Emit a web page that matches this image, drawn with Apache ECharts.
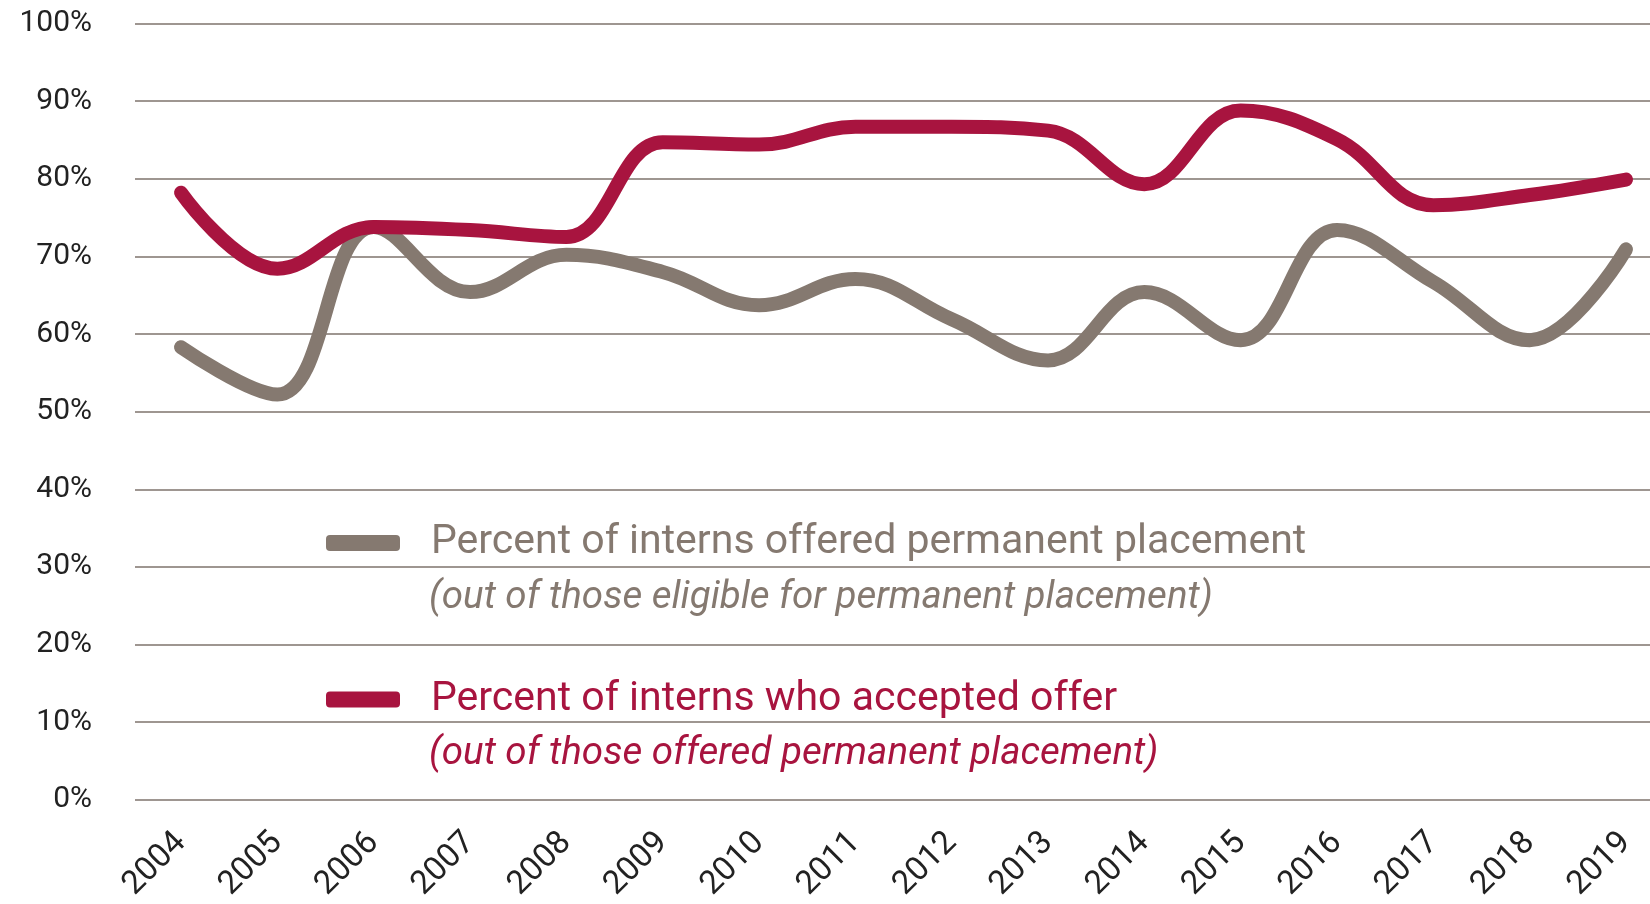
<!DOCTYPE html>
<html>
<head>
<meta charset="utf-8">
<script src="https://cdn.jsdelivr.net/npm/echarts@6/dist/echarts.min.js"></script>
<style>
  html, body { margin: 0; padding: 0; background: #fff; }
  #main { width: 1650px; height: 904px; }
</style>
</head>
<body>
<div id="main"></div>
<script>
// years on the x axis
var years = [2004, 2005, 2006, 2007, 2008, 2009, 2010, 2011, 2012, 2013, 2014, 2015, 2016, 2017, 2018, 2019];
// percent of interns offered permanent placement
var offered = [58.3, 52.2, 73.8, 65.4, 70.2, 68.0, 63.7, 67.1, 61.9, 56.6, 65.4, 59.2, 73.4, 66.7, 59.2, 70.9];
// percent of interns who accepted offer
var accepted = [78.2, 68.4, 73.8, 73.4, 72.5, 84.7, 84.4, 86.7, 86.7, 86.2, 79.3, 88.8, 85.1, 76.6, 77.9, 79.9];
var yTicks = [0, 10, 20, 30, 40, 50, 60, 70, 80, 90, 100];

var nameOffered = 'Percent of interns offered permanent placement';
var nameAccepted = 'Percent of interns who accepted offer';
var subOffered = '(out of those eligible for permanent placement)';
var subAccepted = '(out of those offered permanent placement)';

var grey = '#857970';
var red = '#a8143f';
var font = 'Roboto';

var myChart = echarts.init(document.getElementById('main'));

function pairs(vals) {
  return vals.map(function (v, i) { return [years[i], v]; });
}

var option = {
  animation: false,
  grid: { left: 135, right: 0, top: 23.5, bottom: 103 },
  xAxis: {
    type: 'value',
    min: 2003.522,
    max: 2019.249,
    axisLine: { show: false },
    axisTick: { show: false },
    splitLine: { show: false },
    axisLabel: {
      customValues: years,
      rotate: 45,
      margin: 38,
      fontFamily: font,
      fontSize: 33,
      color: '#222',
      formatter: function (v) { return String(v); }
    }
  },
  yAxis: {
    type: 'value',
    min: yTicks[0],
    max: yTicks[yTicks.length - 1],
    interval: 10,
    axisLine: { show: false },
    axisTick: { show: false },
    axisLabel: {
      margin: 43,
      fontFamily: font,
      fontSize: 30,
      color: '#222',
      formatter: '{value}%'
    },
    splitLine: { lineStyle: { color: '#9e9691', width: 2 } }
  },
  legend: [
    {
      data: [nameOffered],
      left: 321, top: 515,
      icon: 'roundRect', itemWidth: 74, itemHeight: 16,
      textStyle: { fontFamily: font, fontSize: 41, color: grey, lineHeight: 46, padding: [0, 0, 0, 26] }
    },
    {
      data: [nameAccepted],
      left: 321, top: 671.5,
      icon: 'roundRect', itemWidth: 74, itemHeight: 16,
      textStyle: { fontFamily: font, fontSize: 41, color: red, lineHeight: 46, padding: [0, 0, 0, 26] }
    }
  ],
  graphic: [
    {
      type: 'text', left: 429, top: 579,
      style: { text: subOffered, font: 'italic 38.5px ' + font, fill: grey }
    },
    {
      type: 'text', left: 429, top: 735,
      style: { text: subAccepted, font: 'italic 38.5px ' + font, fill: red }
    }
  ],
  series: [
    {
      name: nameOffered,
      type: 'line',
      smooth: 0.4,
      showSymbol: false,
      data: pairs(offered),
      lineStyle: { color: grey, width: 14, cap: 'round', join: 'round' },
      itemStyle: { color: grey }
    },
    {
      name: nameAccepted,
      type: 'line',
      smooth: 0.4,
      showSymbol: false,
      data: pairs(accepted),
      lineStyle: { color: red, width: 14, cap: 'round', join: 'round' },
      itemStyle: { color: red }
    }
  ]
};
myChart.setOption(option);
</script>
</body>
</html>
